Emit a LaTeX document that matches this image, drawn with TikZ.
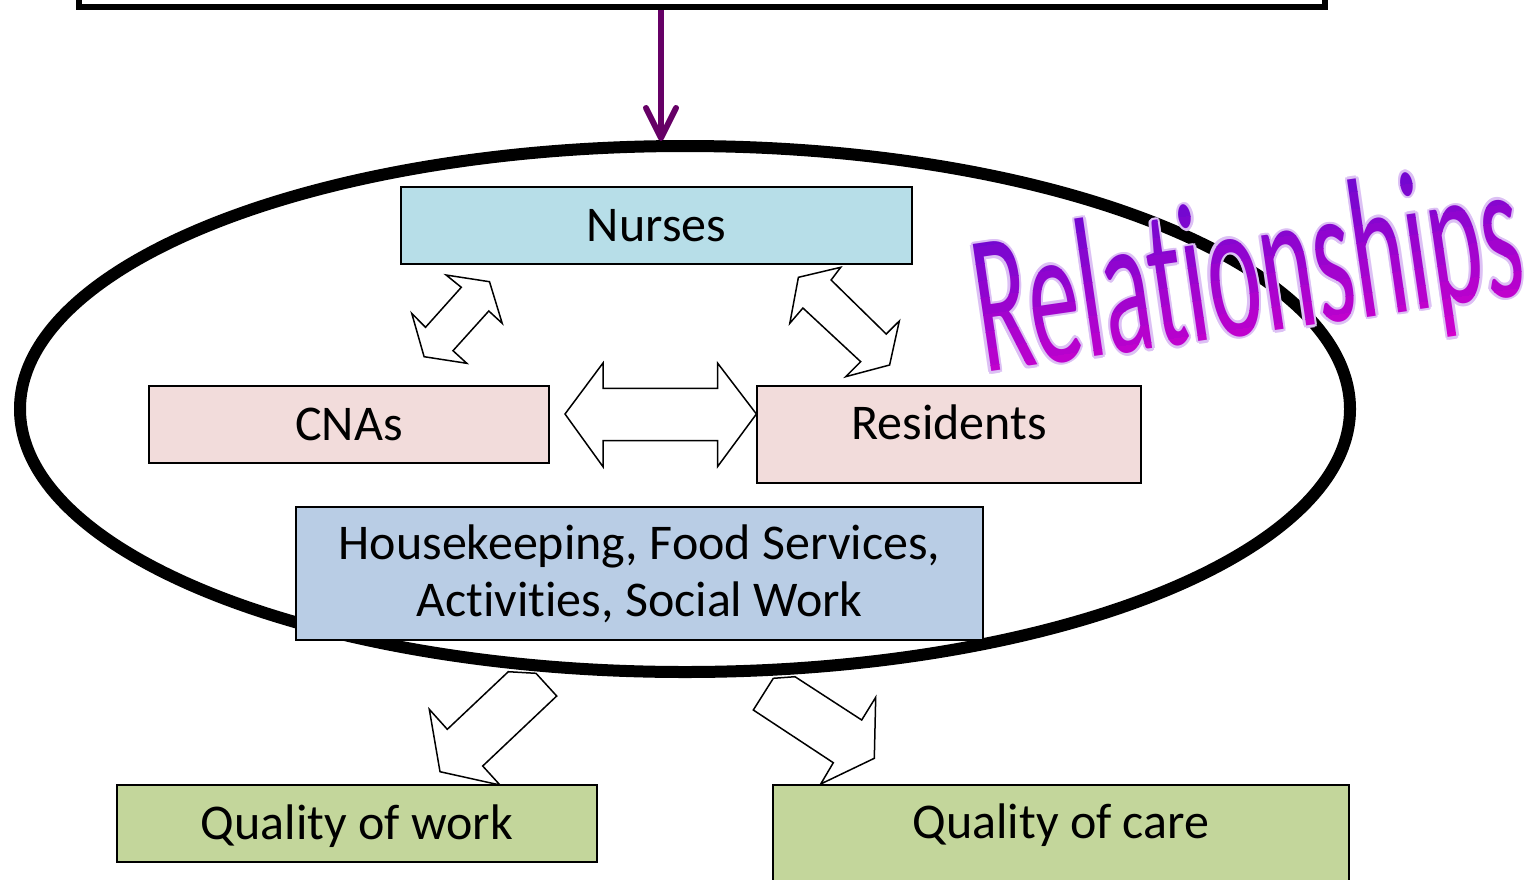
\documentclass[tikz,border=0pt]{standalone}
\usepackage{fontspec}
\setmainfont{Carlito}[Ligatures=NoCommon]
\usetikzlibrary{shapes.geometric,arrows.meta,calc}
\definecolor{nurseblue}{HTML}{B7DEE8}
\definecolor{staffpink}{HTML}{F2DCDB}
\definecolor{servblue}{HTML}{B9CDE5}
\definecolor{qualgreen}{HTML}{C3D69B}
\definecolor{arrowpurple}{HTML}{660066}
\definecolor{glowlav}{HTML}{DCC0F4}
\definecolor{wordtop}{HTML}{6A08D0}
\definecolor{wordbot}{HTML}{D400CC}
\newcommand{\relword}{\scalebox{1.02}[2]{\fontsize{100}{100}\selectfont Relationships}}
\begin{document}
\begin{tikzpicture}[x=1pt,y=-1pt,
  boxtxt/.style={font=\fontsize{50}{58}\selectfont, text height=32pt, text depth=0pt},
  box/.style={draw=black, line width=1.5pt, rectangle, inner sep=0pt, boxtxt},
  lbl/.style={inner sep=0pt, boxtxt},
  blockarrow/.style={draw=black, fill=white, line width=1.5pt, line join=miter},
  wordart/.style={anchor=base west, inner sep=0pt, transform shape}]
\useasboundingbox (0,0) rectangle (1533,879);
\clip (0,0) rectangle (1533,879);

% heading box, mostly above the page edge
\node[draw=black, line width=6pt, minimum width=1246.5pt, minimum height=47pt, inner sep=0pt] (head) at (701.75,-16.5) {};

% block arrows leaving the ring towards the outcomes
\draw[blockarrow] (508.3,671.7) -- (536,673.3) -- (556.7,696) -- (482.7,766) -- (500,785)
  -- (440,771.7) -- (429.3,709.3) -- (447.3,729.3) -- cycle;
\draw[blockarrow] (773.3,678.3) -- (795,676.7) -- (861.7,720) -- (875.7,697.3) -- (874.3,758.3)
  -- (820.7,784) -- (833.3,762.7) -- (753.3,710) -- cycle;

% the ring that holds the staff groups
\node[draw=black, ellipse, line width=12pt, minimum width=1330pt, minimum height=526pt, inner sep=0pt] (ring) at (685,409) {};

% arrow from the heading down to the ring
\coordinate (ringtop) at (661,141);
\draw[arrowpurple, line width=6pt, -{Straight Barb[length=30pt,width=30pt,round]}]
  (head.south -| ringtop) -- (ringtop);

% staff groups
\node[box, fill=nurseblue, minimum width=511pt, minimum height=77pt] (nurses) at (656.5,225.5) {Nurses};
\node[box, fill=staffpink, minimum width=400pt, minimum height=77pt] (cnas) at (349,424.5) {CNAs};
\node[box, fill=staffpink, minimum width=384pt, minimum height=97pt] (res) at (949,434.5) {};
\node[lbl] (reslbl) at ($(res.north)+(0,38.5)$) {Residents};
\node[draw=black, line width=1.5pt, fill=servblue, minimum width=687pt, minimum height=133pt, inner sep=0pt,
  align=center, font=\fontsize{50}{57}\selectfont] (serv) at (639.5,573.5) {};
\node[align=center, inner sep=0pt, font=\fontsize{50}{57}\selectfont] (servlbl) at (639.5,573.5)
  {Housekeeping, Food Services,\\Activities, Social Work};

% two-headed block arrows between the groups
\draw[blockarrow] (446.1,275) -- (489.5,281.7) -- (502.2,323.3) -- (488.8,311) -- (453,350.7)
  -- (466.8,363.3) -- (424.1,356.7) -- (411.7,313.3) -- (425.5,327.3) -- (461.3,287.3) -- cycle;
\draw[blockarrow] (798.4,277.3) -- (840.7,267.3) -- (831.1,280) -- (886.2,334) -- (899.3,321)
  -- (889.6,365) -- (845.6,376.7) -- (860.7,361.7) -- (802.9,308) -- (789.8,323.3) -- cycle;
\draw[blockarrow] (565,414) -- (603,363) -- (603,388.3) -- (717.5,388.3) -- (717.5,363) -- (756.4,414)
  -- (717.5,466.7) -- (717.5,440.7) -- (603,440.7) -- (603,466.7) -- cycle;

% outcomes
\node[box, fill=qualgreen, minimum width=480pt, minimum height=77pt] (work) at (357,823.5) {Quality of work};
\node[box, fill=qualgreen, minimum width=576pt, minimum height=115pt] (care) at (1061,842.5) {};
\node[lbl] (carelbl) at ($(care.north)+(0,38.5)$) {Quality of care};

% tilted title word with a soft outline and a vertical colour ramp
\begin{scope}[shift={(984,373)}, rotate=8.3]
  \foreach \dx/\dy [count=\i] in {2.5/0,-2.5/0,0/2.5,0/-2.5,1.8/1.8,-1.8/1.8,1.8/-1.8,-1.8/-1.8}
    \node[wordart, text=glowlav] (relglow\i) at (\dx,\dy) {\relword};
  \foreach \k in {0,...,11} {
    \pgfmathtruncatemacro\mix{100*\k/11}
    \begin{scope}
      \clip (-20,{-160+\k*17}) rectangle (620,{-160+(\k+1)*17+0.6});
      \node[wordart, text=wordbot!\mix!wordtop] (relband\k) at (0,0) {\relword};
    \end{scope}
  }
\end{scope}
\end{tikzpicture}
\end{document}
